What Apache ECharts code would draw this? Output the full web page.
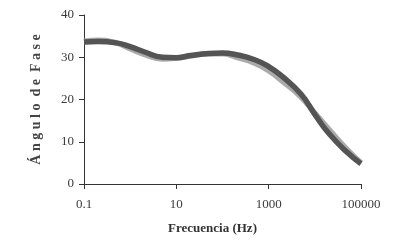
<!DOCTYPE html>
<html>
<head>
<meta charset="utf-8">
<script src="https://cdn.jsdelivr.net/npm/echarts@6/dist/echarts.min.js"></script>
<style>
  html, body { margin: 0; padding: 0; background: #fff; }
  #chart { width: 419px; height: 251px; }
</style>
</head>
<body>
<div id="chart"></div>
<script>
(function () {

    // frecuencia (Hz) y ángulo de fase de las dos curvas
    var freq  = [0.1, 0.2, 0.5, 1, 2, 5, 10, 20, 50, 100, 200, 500, 1000, 2000, 5000, 10000, 20000, 50000, 100000];
    var faseA = [33.6, 33.7, 33.4, 32.5, 31.3, 30.0, 29.9, 30.4, 30.9, 31.0, 30.6, 29.4, 27.8, 25.4, 21.3, 16.5, 12.0, 7.5, 4.8];
    var faseB = [33.8, 34.0, 33.4, 32.0, 30.7, 29.6, 29.8, 30.3, 30.8, 30.8, 30.0, 28.6, 26.8, 24.3, 20.6, 16.8, 13.0, 8.2, 5.0];

    var FONT = '"Liberation Serif", "DejaVu Serif", serif';
    var AXIS = '#333';

    function pairs(ys) {
        return freq.map(function (f, i) { return [f, ys[i]]; });
    }

    var chart = echarts.init(document.getElementById('chart'));

    chart.setOption({
        animation: false,
        grid: { left: 84, right: 58, top: 15, bottom: 67 },
        xAxis: {
            type: 'log', logBase: 10, min: 0.1, max: 100000, interval: 2,
            name: 'Frecuencia (Hz)', nameLocation: 'middle', nameGap: 38,
            nameTextStyle: { fontFamily: FONT, fontWeight: 'bold', fontSize: 13, color: '#333', padding: [0, 20, 0, 0] },
            axisLine: { lineStyle: { color: AXIS, width: 1 } },
            axisTick: { inside: false, length: 5, lineStyle: { color: AXIS } },
            splitLine: { show: false },
            axisLabel: {
                fontFamily: FONT, fontSize: 13, color: '#3a3a3a', margin: 14,
                formatter: function (v) { return v < 1 ? '0.1' : String(Math.round(v)); }
            }
        },
        yAxis: {
            type: 'value', min: 0, max: 40, interval: 10,
            name: 'Á n g u l o  d e  F a s e', nameLocation: 'middle', nameGap: 41,
            nameTextStyle: { fontFamily: FONT, fontWeight: 'bold', fontSize: 14, color: '#444' },
            axisLine: { show: true, lineStyle: { color: AXIS, width: 1 } },
            axisTick: { show: true, length: 5, lineStyle: { color: AXIS } },
            splitLine: { show: false },
            axisLabel: { fontFamily: FONT, fontSize: 13, color: '#3a3a3a', margin: 10 }
        },
        series: [
            { name: 'B', type: 'line', smooth: true, symbol: 'none', data: pairs(faseB),
              lineStyle: { color: '#ababab', width: 5.5 } },
            { name: 'A', type: 'line', smooth: true, symbol: 'none', data: pairs(faseA),
              lineStyle: { color: '#545454', width: 5.5 } }
        ]
    });

})();
</script>
</body>
</html>
